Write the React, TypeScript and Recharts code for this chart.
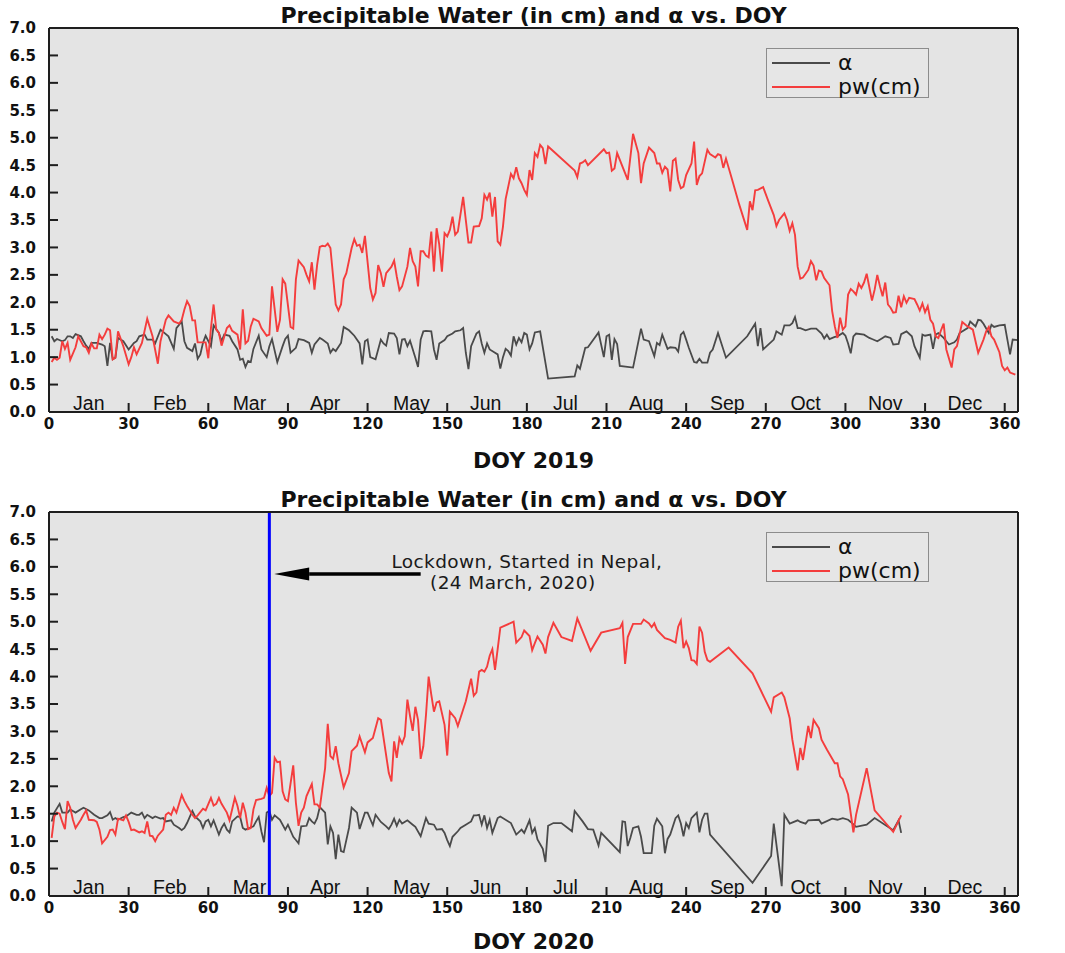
import React from "react";
import {
  CartesianGrid,
  Legend,
  Line,
  LineChart,
  ReferenceDot,
  ReferenceLine,
  XAxis,
  YAxis,
} from "recharts";

type Pt = [number, number];

// [day of year, value]
const pw2019: Pt[] = [
  [1, 0.91], [2, 0.99], [3, 0.95], [4, 0.99], [5, 1.29], [6, 1.15], [7, 1.26], [8, 0.95], [10, 1.18], [11, 1.38],
  [13, 1.2], [14, 1.18], [15, 1.08], [16, 1.25], [17, 1.16], [18, 1.16], [19, 1.41], [20, 1.33], [21, 1.41], [22, 1.52],
  [23, 1.49], [24, 0.96], [25, 0.99], [26, 1.47], [28, 1.2], [30, 0.87], [31, 1.0], [32, 1.18], [33, 1.05], [35, 1.26],
  [37, 1.7], [39, 1.38], [41, 0.88], [42, 1.29], [44, 1.68], [45, 1.76], [47, 1.65], [49, 1.61], [50, 1.68], [51, 1.87],
  [52, 2.02], [53, 1.93], [54, 1.67], [55, 1.67], [56, 1.27], [58, 1.27], [59, 1.27], [60, 0.98], [61, 1.53], [62, 1.96],
  [63, 1.5], [64, 1.44], [65, 1.21], [67, 1.53], [68, 1.58], [69, 1.48], [71, 1.41], [72, 1.14], [73, 1.87], [74, 1.25],
  [75, 1.3], [76, 1.56], [77, 1.7], [79, 1.65], [80, 1.53], [82, 1.39], [83, 1.41], [84, 2.29], [86, 1.46], [87, 1.68],
  [88, 2.42], [89, 2.34], [91, 1.55], [92, 1.52], [93, 2.42], [94, 2.76], [96, 2.64], [97, 2.5], [98, 2.38], [99, 2.73],
  [100, 2.23], [101, 2.68], [102, 3.01], [103, 3.03], [104, 3.02], [105, 3.07], [106, 2.99], [108, 1.96], [109, 1.85], [110, 1.96],
  [111, 2.42], [112, 2.53], [114, 2.99], [115, 3.15], [116, 3.03], [117, 3.05], [118, 2.9], [119, 3.21], [121, 2.26], [122, 2.05],
  [123, 2.17], [124, 2.68], [125, 2.53], [126, 2.28], [127, 2.53], [129, 2.65], [130, 2.76], [131, 2.47], [132, 2.22], [133, 2.29],
  [135, 2.65], [136, 2.99], [137, 2.75], [138, 2.65], [139, 2.29], [140, 2.93], [141, 2.93], [142, 2.85], [143, 2.82], [144, 3.29],
  [145, 2.56], [146, 3.35], [147, 3.05], [148, 2.56], [149, 3.26], [150, 3.2], [151, 3.32], [152, 3.56], [153, 3.23], [154, 3.29],
  [156, 3.92], [157, 3.5], [158, 3.09], [159, 3.09], [160, 3.38], [162, 3.39], [163, 3.53], [164, 3.96], [165, 3.87], [166, 4.0],
  [167, 3.56], [168, 3.92], [169, 3.11], [170, 3.05], [171, 3.38], [172, 3.88], [174, 4.34], [175, 4.26], [176, 4.46], [177, 4.26],
  [178, 4.17], [179, 4.05], [180, 3.96], [181, 4.41], [182, 4.23], [183, 4.72], [184, 4.65], [185, 4.87], [186, 4.81], [187, 4.52],
  [188, 4.84], [198, 4.4], [199, 4.28], [200, 4.53], [201, 4.55], [202, 4.59], [203, 4.5], [209, 4.79], [210, 4.72], [211, 4.73],
  [212, 4.4], [213, 4.44], [214, 4.72], [218, 4.23], [220, 5.07], [222, 4.72], [223, 4.17], [224, 4.53], [226, 4.82], [228, 4.72],
  [229, 4.53], [230, 4.53], [231, 4.36], [232, 4.47], [233, 4.42], [234, 4.02], [235, 4.58], [236, 4.62], [237, 4.23], [238, 4.08],
  [239, 4.11], [240, 4.32], [242, 4.53], [243, 4.93], [244, 4.14], [245, 4.3], [246, 4.35], [248, 4.78], [249, 4.7], [251, 4.64],
  [252, 4.7], [253, 4.68], [254, 4.45], [255, 4.62], [257, 4.29], [260, 3.78], [263, 3.32], [264, 3.84], [265, 3.68], [266, 4.04],
  [267, 4.05], [269, 4.1], [271, 3.84], [273, 3.59], [274, 3.39], [275, 3.5], [277, 3.62], [278, 3.5], [279, 3.3], [280, 3.44],
  [281, 3.23], [282, 2.65], [283, 2.43], [284, 2.45], [286, 2.59], [287, 2.75], [288, 2.67], [289, 2.4], [290, 2.58], [291, 2.56],
  [292, 2.44], [294, 2.31], [295, 1.84], [296, 1.56], [297, 1.35], [298, 1.72], [299, 1.5], [300, 1.56], [301, 2.14], [302, 2.24],
  [303, 2.2], [304, 2.14], [305, 2.34], [306, 2.26], [307, 2.36], [308, 2.52], [310, 2.03], [311, 2.23], [312, 2.5], [313, 2.29],
  [314, 2.11], [315, 2.36], [316, 1.96], [317, 1.9], [318, 1.81], [319, 1.82], [320, 2.12], [321, 1.91], [322, 2.11], [323, 1.99],
  [324, 2.08], [326, 2.06], [327, 1.96], [328, 1.85], [329, 1.98], [330, 1.82], [331, 1.93], [332, 1.68], [333, 1.61], [334, 1.38],
  [335, 1.35], [336, 1.49], [337, 1.61], [338, 1.14], [340, 0.81], [341, 1.14], [342, 1.2], [344, 1.64], [346, 1.56], [348, 1.5],
  [350, 1.08], [352, 1.32], [353, 1.47], [354, 1.55], [355, 1.38], [356, 1.32], [358, 1.09], [359, 0.84], [360, 0.76], [361, 0.81],
  [362, 0.72], [364, 0.68],
];

const alpha2019: Pt[] = [
  [1, 1.38], [2, 1.29], [3, 1.33], [5, 1.29], [6, 1.31], [7, 1.38], [8, 1.38], [9, 1.35], [10, 1.42], [12, 1.38],
  [13, 1.29], [14, 1.21], [15, 1.15], [16, 1.26], [18, 1.26], [20, 1.23], [21, 1.2], [22, 0.84], [23, 1.26], [24, 0.96],
  [25, 0.99], [26, 1.35], [28, 1.29], [30, 1.14], [32, 1.26], [33, 1.29], [34, 1.38], [36, 1.41], [37, 1.32], [39, 1.32],
  [40, 1.25], [42, 1.5], [43, 1.46], [45, 1.38], [47, 1.15], [48, 1.53], [50, 1.65], [51, 1.29], [52, 1.17], [54, 1.11],
  [55, 1.25], [56, 0.97], [57, 1.05], [58, 1.26], [59, 1.39], [61, 1.2], [62, 1.58], [64, 1.44], [65, 1.29], [66, 1.41],
  [68, 1.39], [69, 1.29], [71, 1.14], [72, 0.95], [73, 0.97], [74, 0.82], [75, 0.93], [76, 0.91], [77, 1.15], [79, 1.39],
  [80, 1.14], [82, 1.0], [83, 1.2], [84, 1.33], [86, 0.91], [88, 1.2], [89, 1.33], [90, 1.39], [91, 1.08], [93, 1.17],
  [94, 1.33], [96, 1.31], [98, 1.26], [99, 1.08], [100, 1.23], [102, 1.35], [103, 1.32], [105, 1.25], [106, 1.08], [107, 1.15],
  [108, 1.11], [110, 1.26], [111, 1.55], [112, 1.52], [113, 1.49], [115, 1.39], [117, 1.25], [118, 0.87], [119, 1.29], [120, 1.32],
  [121, 1.0], [123, 0.96], [125, 1.32], [126, 1.25], [127, 1.21], [128, 1.44], [130, 1.43], [131, 1.35], [132, 1.05], [133, 1.32],
  [134, 1.33], [135, 1.2], [136, 1.3], [138, 0.99], [139, 0.82], [140, 1.32], [141, 1.47], [142, 1.48], [144, 1.47], [145, 1.14],
  [146, 0.95], [147, 1.25], [149, 1.31], [150, 1.38], [152, 1.43], [153, 1.47], [155, 1.49], [156, 1.53], [157, 1.08], [158, 0.78],
  [159, 1.2], [161, 1.43], [162, 1.47], [163, 1.25], [164, 1.08], [165, 1.25], [166, 1.14], [168, 1.08], [169, 1.05], [170, 0.79],
  [171, 1.0], [172, 1.15], [173, 1.11], [174, 1.03], [175, 1.38], [176, 1.23], [177, 1.35], [178, 1.27], [179, 1.44], [180, 1.41],
  [181, 1.14], [182, 1.25], [183, 1.45], [185, 1.47], [188, 0.61], [198, 0.65], [199, 0.85], [200, 0.79], [202, 1.17], [203, 1.18],
  [207, 1.45], [209, 1.0], [210, 1.38], [211, 1.41], [212, 0.95], [213, 1.33], [214, 1.24], [215, 0.84], [220, 0.81], [223, 1.52],
  [224, 1.32], [226, 1.29], [228, 1.02], [229, 1.26], [230, 1.22], [231, 1.41], [233, 1.15], [234, 1.18], [236, 1.17], [237, 1.1],
  [238, 1.41], [239, 1.46], [240, 1.32], [241, 1.17], [243, 0.91], [244, 0.9], [245, 0.97], [246, 0.9], [248, 0.9], [249, 1.08],
  [250, 1.14], [252, 1.44], [255, 0.99], [263, 1.38], [266, 1.61], [267, 1.2], [268, 1.53], [269, 1.14], [273, 1.32], [274, 1.47],
  [275, 1.44], [276, 1.41], [277, 1.58], [279, 1.58], [280, 1.62], [281, 1.73], [282, 1.53], [283, 1.53], [285, 1.49], [287, 1.52],
  [289, 1.52], [291, 1.43], [292, 1.34], [293, 1.41], [294, 1.33], [296, 1.37], [297, 1.38], [299, 1.44], [300, 1.39], [301, 1.25],
  [302, 1.07], [303, 1.38], [304, 1.43], [307, 1.41], [309, 1.35], [310, 1.33], [312, 1.29], [314, 1.35], [315, 1.38], [317, 1.35],
  [318, 1.23], [320, 1.24], [321, 1.42], [323, 1.47], [325, 1.38], [326, 1.2], [328, 0.99], [329, 1.41], [330, 1.39], [332, 1.41],
  [333, 1.15], [334, 1.41], [335, 1.44], [337, 1.35], [338, 1.29], [339, 1.23], [341, 1.27], [342, 1.32], [343, 1.44], [346, 1.53],
  [347, 1.65], [349, 1.56], [350, 1.68], [351, 1.67], [352, 1.61], [354, 1.44], [355, 1.59], [356, 1.55], [358, 1.58], [360, 1.59],
  [361, 1.32], [362, 1.05], [363, 1.32], [365, 1.31],
];

const pw2020: Pt[] = [
  [1, 1.06], [2, 1.45], [3, 1.52], [4, 1.5], [5, 1.35], [6, 1.22], [7, 1.73], [8, 1.61], [9, 1.39], [10, 1.24],
  [12, 1.39], [13, 1.48], [14, 1.56], [15, 1.39], [17, 1.38], [18, 1.35], [19, 1.21], [20, 0.96], [22, 1.08], [23, 1.2],
  [24, 1.21], [25, 1.12], [26, 1.41], [28, 1.38], [29, 1.47], [30, 1.35], [31, 1.2], [32, 1.21], [34, 1.16], [35, 1.18],
  [36, 1.15], [37, 1.36], [38, 1.1], [39, 1.09], [40, 1.0], [41, 1.1], [43, 1.21], [44, 1.48], [45, 1.52], [46, 1.48],
  [47, 1.61], [48, 1.52], [50, 1.84], [51, 1.73], [52, 1.64], [54, 1.48], [55, 1.42], [56, 1.47], [58, 1.59], [59, 1.56],
  [61, 1.79], [62, 1.65], [63, 1.68], [64, 1.79], [65, 1.68], [67, 1.52], [68, 1.38], [69, 1.58], [70, 1.79], [71, 1.64],
  [72, 1.42], [73, 1.7], [74, 1.52], [75, 1.22], [76, 1.24], [77, 1.58], [78, 1.75], [80, 1.77], [81, 1.79], [82, 1.97],
  [83, 1.82], [84, 1.88], [85, 2.52], [86, 2.44], [87, 2.45], [88, 1.91], [89, 1.76], [90, 1.73], [92, 2.38], [93, 1.7],
  [94, 1.28], [95, 1.52], [96, 1.61], [97, 1.82], [99, 2.04], [100, 1.67], [101, 1.67], [102, 1.61], [104, 2.33], [105, 3.14],
  [106, 2.55], [107, 2.5], [108, 2.73], [109, 2.42], [111, 1.98], [113, 2.24], [114, 2.64], [116, 2.74], [117, 2.91], [119, 2.62],
  [120, 2.8], [122, 2.88], [124, 3.24], [125, 3.21], [128, 2.24], [129, 2.09], [130, 2.82], [131, 2.52], [132, 2.88], [133, 2.78],
  [134, 2.91], [135, 3.58], [136, 3.28], [137, 3.01], [138, 3.45], [139, 3.21], [140, 2.5], [141, 2.73], [142, 3.3], [143, 4.0],
  [144, 3.67], [145, 3.36], [146, 3.53], [147, 3.55], [149, 3.12], [150, 2.56], [151, 3.36], [153, 3.24], [154, 3.1], [157, 3.55],
  [159, 3.96], [160, 3.65], [161, 3.71], [162, 4.09], [163, 4.12], [164, 4.09], [165, 4.18], [166, 4.38], [167, 4.5], [168, 4.12],
  [169, 4.5], [170, 4.89], [175, 5.0], [176, 4.62], [178, 4.72], [179, 4.84], [181, 4.74], [182, 4.48], [183, 4.61], [184, 4.73],
  [186, 4.58], [187, 4.42], [188, 4.72], [190, 4.98], [193, 4.72], [197, 4.65], [199, 5.06], [204, 4.47], [208, 4.8], [215, 4.88],
  [216, 4.98], [217, 4.23], [218, 4.72], [220, 4.96], [221, 4.96], [223, 4.96], [224, 5.04], [226, 4.97], [227, 4.9], [228, 4.97],
  [229, 4.85], [232, 4.7], [234, 4.67], [236, 4.62], [237, 4.91], [238, 5.02], [239, 4.52], [240, 4.64], [241, 4.52], [242, 4.3],
  [243, 4.29], [244, 4.23], [245, 4.91], [246, 4.8], [247, 4.45], [248, 4.3], [249, 4.27], [256, 4.53], [265, 4.06], [272, 3.36],
  [273, 3.62], [276, 3.71], [277, 3.62], [279, 3.24], [280, 2.85], [282, 2.29], [283, 2.7], [284, 2.48], [286, 3.1], [287, 2.88],
  [288, 3.21], [290, 3.06], [291, 2.85], [293, 2.67], [296, 2.42], [297, 2.42], [298, 2.18], [299, 2.13], [301, 1.85], [303, 1.16],
  [304, 1.48], [308, 2.33], [311, 1.56], [318, 1.17], [321, 1.47],
];

const alpha2020: Pt[] = [
  [1, 1.36], [2, 1.52], [4, 1.68], [5, 1.52], [7, 1.52], [8, 1.58], [9, 1.55], [10, 1.52], [12, 1.58], [13, 1.61],
  [15, 1.56], [17, 1.48], [19, 1.42], [20, 1.42], [22, 1.47], [23, 1.53], [24, 1.39], [25, 1.42], [26, 1.39], [28, 1.44],
  [29, 1.45], [31, 1.52], [33, 1.48], [34, 1.48], [35, 1.52], [36, 1.42], [37, 1.48], [39, 1.42], [40, 1.45], [42, 1.41],
  [43, 1.42], [44, 1.36], [46, 1.38], [47, 1.3], [49, 1.24], [50, 1.2], [51, 1.24], [52, 1.33], [54, 1.55], [55, 1.45],
  [57, 1.36], [58, 1.24], [59, 1.36], [60, 1.39], [61, 1.27], [62, 1.38], [64, 1.12], [65, 1.24], [66, 1.32], [67, 1.21],
  [68, 1.16], [69, 1.36], [71, 1.45], [72, 1.44], [73, 1.24], [74, 1.21], [75, 1.23], [77, 1.27], [78, 1.36], [79, 1.44],
  [80, 1.18], [81, 0.98], [82, 1.52], [83, 1.55], [84, 1.39], [85, 1.47], [87, 1.39], [89, 1.21], [90, 1.3], [92, 1.08],
  [93, 1.02], [94, 0.96], [95, 1.27], [97, 1.28], [98, 1.42], [99, 1.36], [100, 1.32], [101, 1.42], [102, 1.62], [104, 1.52],
  [105, 0.94], [106, 1.27], [107, 1.15], [108, 0.67], [109, 1.12], [110, 0.82], [111, 0.8], [113, 1.24], [114, 1.61], [116, 1.52],
  [117, 1.22], [119, 1.52], [120, 1.52], [122, 1.29], [123, 1.48], [125, 1.35], [127, 1.27], [128, 1.22], [129, 1.3], [130, 1.41],
  [131, 1.28], [132, 1.39], [133, 1.32], [135, 1.38], [137, 1.3], [138, 1.26], [140, 1.09], [142, 1.42], [143, 1.32], [145, 1.3],
  [146, 1.21], [148, 1.22], [149, 1.15], [150, 1.02], [151, 0.91], [152, 1.08], [154, 1.18], [155, 1.24], [157, 1.3], [159, 1.36],
  [160, 1.47], [161, 1.47], [162, 1.48], [163, 1.3], [164, 1.47], [165, 1.24], [166, 1.39], [167, 1.15], [169, 1.42], [170, 1.45],
  [174, 1.33], [176, 1.12], [178, 1.21], [179, 1.15], [181, 1.38], [182, 1.15], [183, 1.24], [184, 1.03], [186, 0.86], [187, 0.62],
  [188, 1.28], [190, 1.33], [193, 1.33], [197, 1.18], [198, 1.55], [201, 1.36], [203, 1.22], [205, 1.21], [207, 0.92], [208, 1.15],
  [215, 0.8], [216, 1.36], [217, 1.35], [218, 0.91], [219, 1.06], [220, 1.24], [222, 1.27], [223, 1.08], [224, 0.78], [227, 0.78],
  [228, 1.28], [229, 1.41], [231, 1.27], [232, 0.78], [233, 1.04], [234, 1.12], [236, 1.42], [237, 1.47], [238, 1.32], [239, 1.09],
  [240, 1.33], [241, 1.24], [242, 1.42], [243, 1.47], [244, 1.52], [245, 1.16], [246, 1.39], [247, 1.5], [248, 1.5], [249, 1.12],
  [265, 0.24], [272, 0.73], [273, 1.32], [276, 0.18], [277, 1.48], [279, 1.32], [282, 1.38], [283, 1.35], [285, 1.32], [286, 1.38],
  [290, 1.39], [291, 1.32], [295, 1.41], [297, 1.39], [299, 1.42], [301, 1.39], [302, 1.35], [304, 1.26], [308, 1.3], [311, 1.42],
  [318, 1.2], [320, 1.38], [321, 1.15],
];

const doyTicks = [0, 30, 60, 90, 120, 150, 180, 210, 240, 270, 300, 330, 360];
const valueTicks = [0, 0.5, 1, 1.5, 2, 2.5, 3, 3.5, 4, 4.5, 5, 5.5, 6, 6.5, 7];
const months = ["Jan", "Feb", "Mar", "Apr", "May", "Jun", "Jul", "Aug", "Sep", "Oct", "Nov", "Dec"];
const monthMid = [15, 45.5, 75.5, 104, 136.5, 164.5, 194.5, 225, 255.5, 285, 315, 345];
const seriesOrder = ["α", "pw(cm)"];

const title = "Precipitable Water (in cm) and α vs. DOY";
const lockdownDoy = 83;
const noteLines = ["Lockdown, Started in Nepal,", "(24 March, 2020)"];
const noteAt: Pt[] = [[180, 6.1], [174.7, 5.72]];
const arrowTail: Pt = [140, 5.87];
const arrowBase: Pt = [98, 5.87];

const PLOT_BG = "#e4e4e4";
const FRAME = "#1e1e1e";
const RED = "#f43d3d";
const GREY = "#4a4a4a";
const TICK_LEN = 9;
const boldFont = "'DejaVu Sans', Verdana, sans-serif";

const rows = (pts: Pt[]) => pts.map(([doy, v]) => ({ doy, v }));

const tickText = { fontFamily: boldFont, fontWeight: 700, fontSize: 15, fill: "#111" };

function BottomTick(props: any) {
  const { x, y, payload } = props;
  return (
    <g>
      <line x1={x} x2={x} y1={y} y2={y - TICK_LEN} stroke={FRAME} strokeWidth={2} />
      <text x={x} y={y + 17} textAnchor="middle" {...tickText}>{payload.value}</text>
    </g>
  );
}

function TopTick(props: any) {
  const { x, y } = props;
  return <line x1={x} x2={x} y1={y} y2={y + TICK_LEN} stroke={FRAME} strokeWidth={2} />;
}

function LeftTick(props: any) {
  const { x, y, payload } = props;
  return (
    <g>
      <line x1={x} x2={x + TICK_LEN} y1={y} y2={y} stroke={FRAME} strokeWidth={2} />
      <text x={x - 13} y={y} dy="0.36em" textAnchor="end" {...tickText}>{payload.value.toFixed(1)}</text>
    </g>
  );
}

function RightTick(props: any) {
  const { x, y, payload } = props;
  return (
    <g>
      <line x1={x} x2={x - TICK_LEN} y1={y} y2={y} stroke={FRAME} strokeWidth={2} />
      <text x={x + 6} y={y} dy="0.36em" textAnchor="start" {...tickText}>{payload.value.toFixed(1)}</text>
    </g>
  );
}

function Arrow(props: any) {
  const { x1, y1, x2, y2 } = props;
  const dir = Math.sign(x2 - x1) || -1;
  const headLen = 35;
  const half = 6.5;
  return (
    <g>
      <line x1={x1} y1={y1} x2={x2} y2={y2} stroke="#000" strokeWidth={3.5} />
      <polygon
        points={`${x2 + dir * headLen},${y2} ${x2},${y2 - half} ${x2},${y2 + half}`}
        fill="#000"
      />
    </g>
  );
}

function LegendBox(props: any) {
  const items = [...(props.payload || [])].sort(
    (a: any, b: any) => seriesOrder.indexOf(a.value) - seriesOrder.indexOf(b.value)
  );
  return (
    <div
      style={{
        position: "relative",
        width: 163,
        height: 50,
        boxSizing: "border-box",
        border: "1.5px solid #8c8c8c",
        background: "#e6e6e6",
      }}
    >
      {items.map((it: any, i: number) => (
        <div
          key={it.value}
          style={{ position: "absolute", left: 5, top: 2 + i * 24, height: 24, display: "flex", alignItems: "center" }}
        >
          <svg width={58} height={4}>
            <line x1={0} x2={58} y1={2} y2={2} stroke={it.color} strokeWidth={1.8} />
          </svg>
          <span
            style={{
              marginLeft: 8,
              fontFamily: "'DejaVu Sans', Verdana, sans-serif",
              fontSize: 22,
              lineHeight: "24px",
              color: "#111",
            }}
          >
            {it.value}
          </span>
        </div>
      ))}
    </div>
  );
}

function Panel({
  year,
  pw,
  alpha,
  height,
  bottom,
  yearOffset,
  children,
}: {
  year: string;
  pw: Pt[];
  alpha: Pt[];
  height: number;
  bottom: number;
  yearOffset: number;
  children?: React.ReactNode;
}) {
  return (
    <LineChart width={1065} height={height} margin={{ top: 27, right: 8, bottom, left: 8 }}>
      <CartesianGrid horizontal={false} vertical={false} fill={PLOT_BG} fillOpacity={1} />
      <XAxis
        dataKey="doy"
        type="number"
        domain={[0, 365]}
        ticks={doyTicks}
        interval={0}
        height={25}
        tickSize={0}
        tickMargin={0}
        tick={<BottomTick />}
        axisLine={{ stroke: FRAME, strokeWidth: 2 }}
        label={{
          value: `DOY ${year}`,
          position: "bottom",
          offset: yearOffset,
          fill: "#111",
          fontSize: 22,
          fontWeight: 700,
          fontFamily: boldFont,
        }}
      />
      <XAxis
        xAxisId="top"
        orientation="top"
        type="number"
        domain={[0, 365]}
        ticks={doyTicks}
        interval={0}
        height={1}
        tickSize={0}
        tickMargin={0}
        tick={<TopTick />}
        axisLine={{ stroke: FRAME, strokeWidth: 2 }}
        label={{
          value: title,
          position: "top",
          offset: 4,
          fill: "#111",
          fontSize: 22,
          fontWeight: 700,
          fontFamily: boldFont,
        }}
      />
      <YAxis
        type="number"
        domain={[0, 7]}
        ticks={valueTicks}
        interval={0}
        width={41}
        tickSize={0}
        tickMargin={0}
        tick={<LeftTick />}
        axisLine={{ stroke: FRAME, strokeWidth: 2 }}
      />
      <YAxis
        yAxisId="r"
        orientation="right"
        type="number"
        domain={[0, 7]}
        ticks={valueTicks}
        interval={0}
        width={39}
        tickSize={0}
        tickMargin={0}
        tick={<RightTick />}
        axisLine={{ stroke: FRAME, strokeWidth: 2 }}
      />
      <Legend
        layout="horizontal"
        verticalAlign="middle"
        align="center"
        wrapperStyle={{ top: 48, left: 766, width: 163, height: 50 }}
        content={<LegendBox />}
      />
      {months.map((m, i) => (
        <ReferenceDot
          key={m}
          x={monthMid[i]}
          y={0}
          r={0}
          fill="none"
          stroke="none"
          ifOverflow="visible"
          label={{
            value: m,
            position: "top",
            offset: 2,
            fill: "#111",
            fontSize: 19.5,
            fontFamily: "'Liberation Sans', Arial, sans-serif",
          }}
        />
      ))}
      <Line
        data={rows(alpha)}
        dataKey="v"
        name="α"
        type="linear"
        stroke={GREY}
        strokeWidth={1.8}
        dot={false}
        isAnimationActive={false}
      />
      <Line
        data={rows(pw)}
        dataKey="v"
        name="pw(cm)"
        type="linear"
        stroke={RED}
        strokeWidth={1.9}
        dot={false}
        isAnimationActive={false}
      />
      {children}
    </LineChart>
  );
}

export default function App() {
  return (
    <div
      style={{
        position: "fixed",
        top: 0,
        left: 0,
        width: 1065,
        height: 953,
        overflow: "hidden",
        background: "#fff",
      }}
    >
      <Panel year="2019" pw={pw2019} alpha={alpha2019} height={484} bottom={47} yearOffset={15} />
      <Panel year="2020" pw={pw2020} alpha={alpha2020} height={469} bottom={32} yearOffset={12}>
        <ReferenceLine x={lockdownDoy} stroke="#0000ff" strokeWidth={3} ifOverflow="visible" />
        <ReferenceLine
          segment={[
            { x: arrowTail[0], y: arrowTail[1] },
            { x: arrowBase[0], y: arrowBase[1] },
          ]}
          shape={<Arrow />}
          ifOverflow="visible"
        />
        {noteLines.map((t, i) => (
          <ReferenceDot
            key={t}
            x={noteAt[i][0]}
            y={noteAt[i][1]}
            r={0}
            fill="none"
            stroke="none"
            ifOverflow="visible"
            label={{
              value: t,
              position: "center",
              fill: "#1a1a1a",
              fontSize: 18.5,
              letterSpacing: 0.4,
              fontFamily: "'DejaVu Sans', sans-serif",
            }}
          />
        ))}
      </Panel>
    </div>
  );
}
